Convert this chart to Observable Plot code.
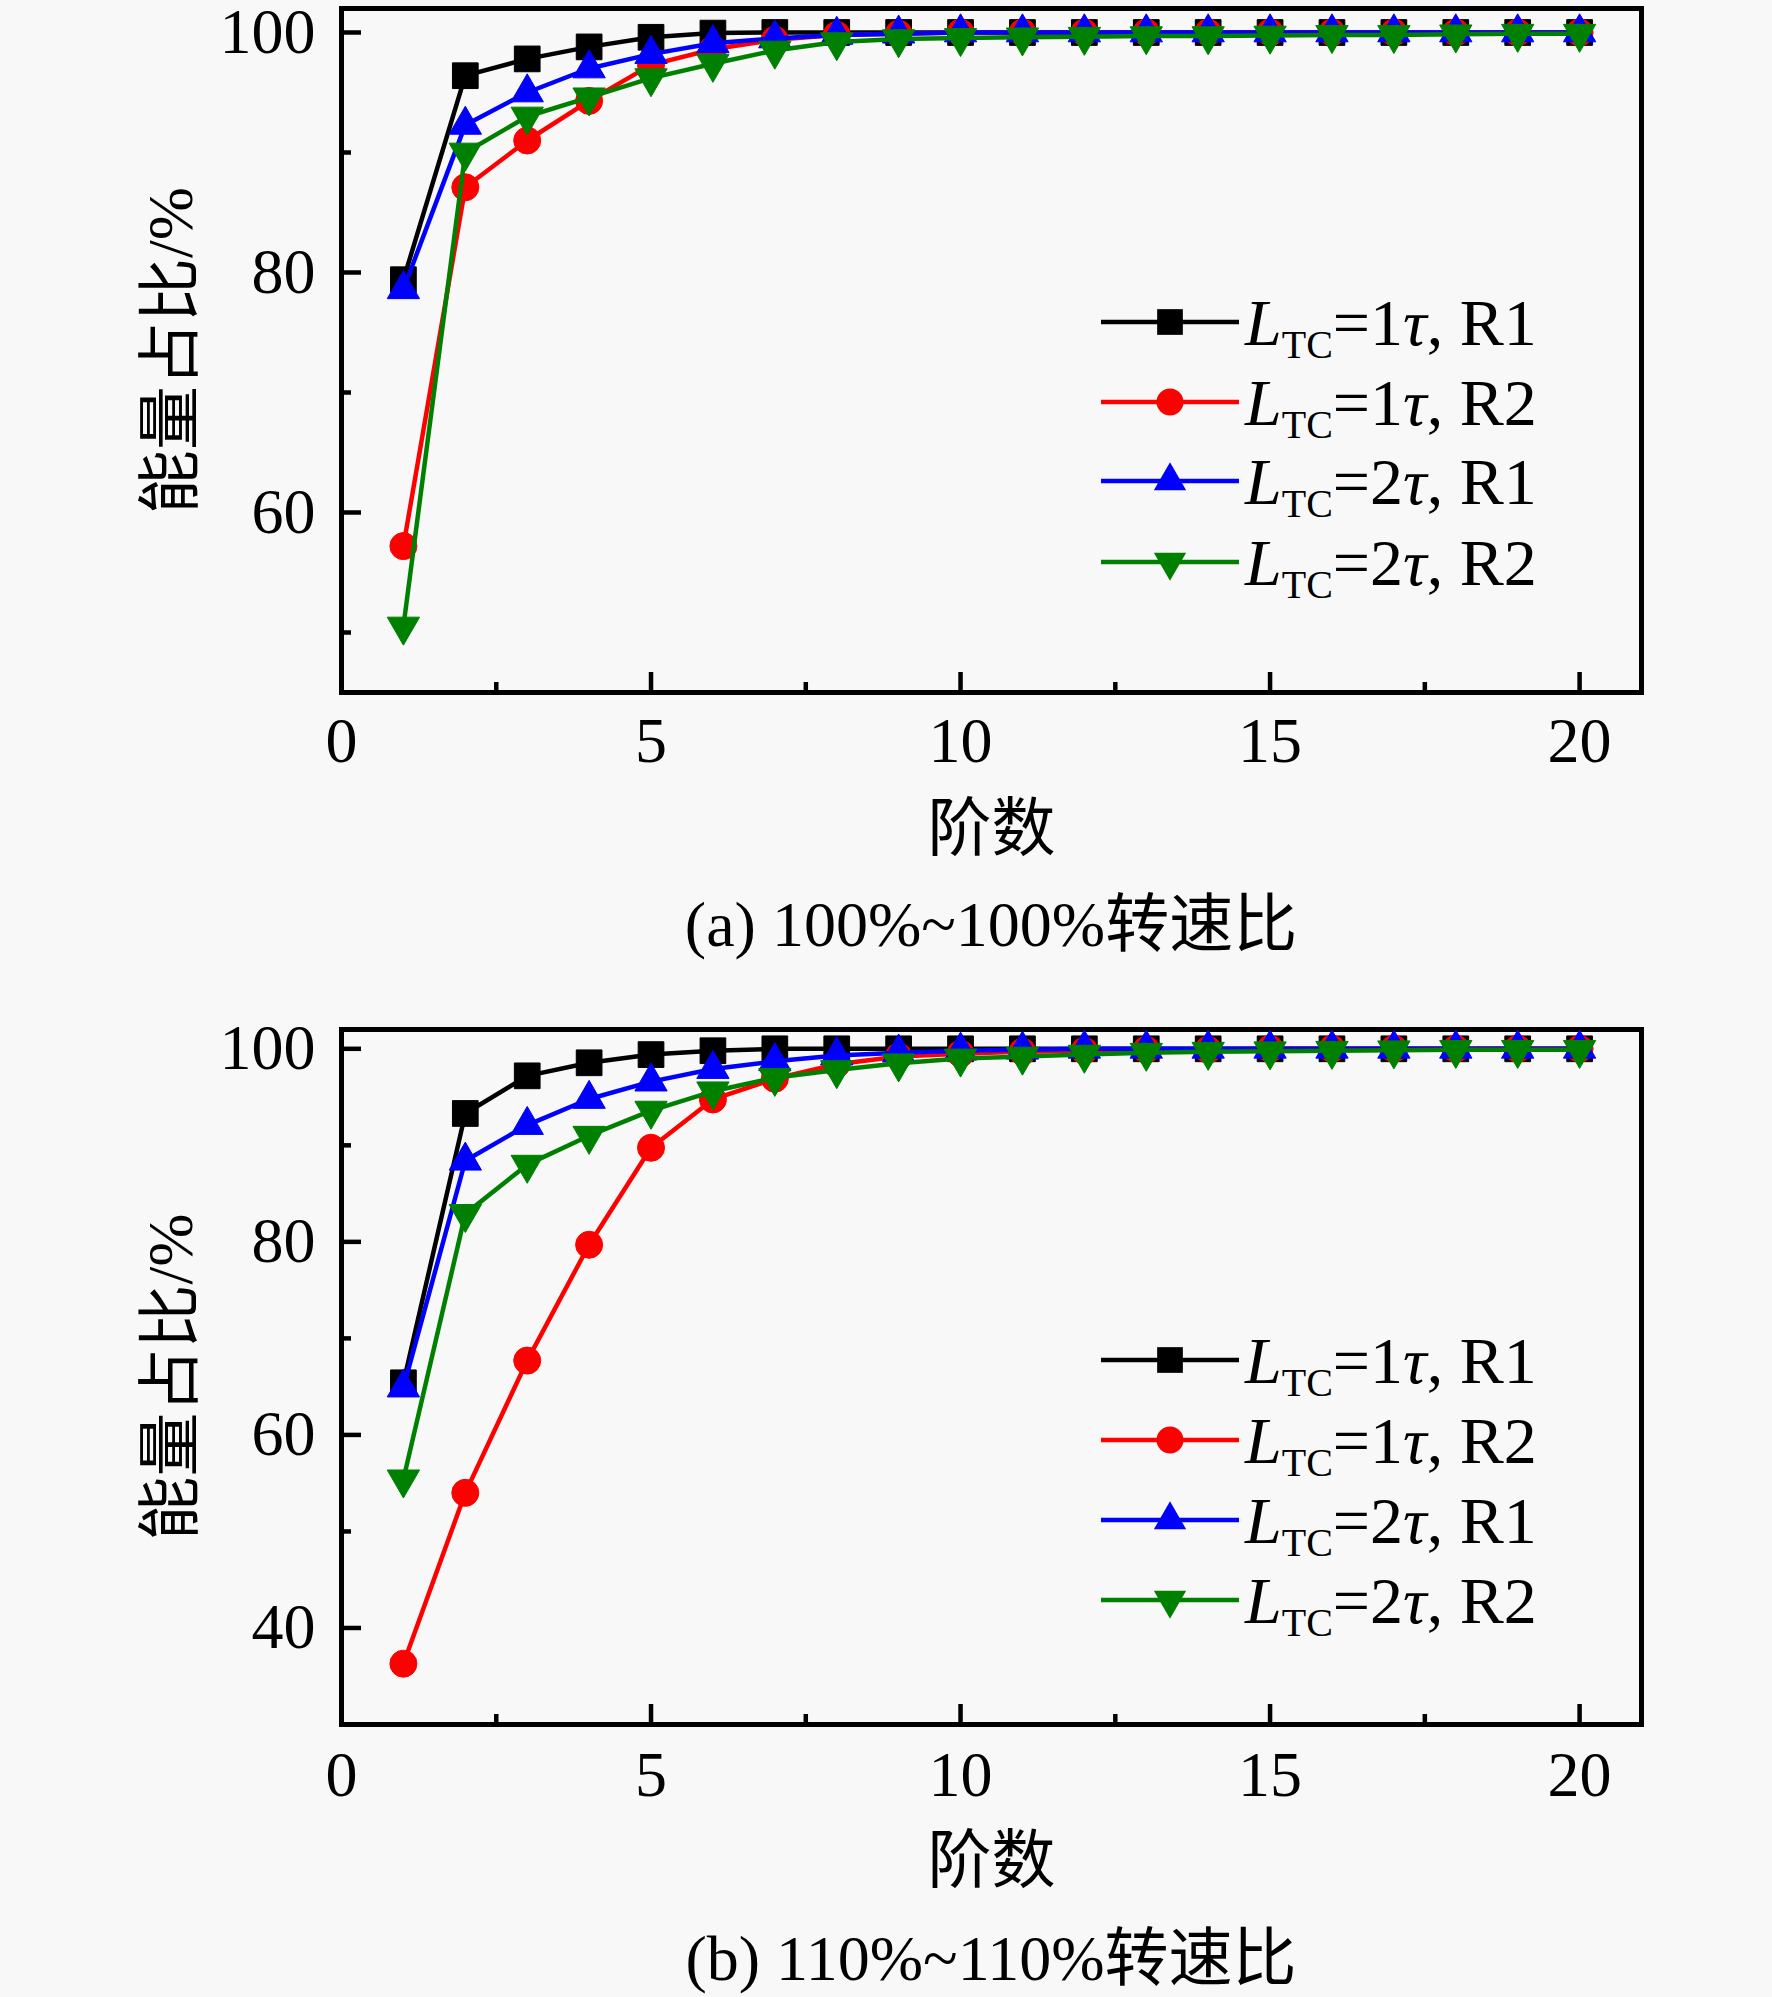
<!DOCTYPE html>
<html><head><meta charset="utf-8">
<script src="https://cdn.jsdelivr.net/npm/d3@7"></script>
<script src="https://cdn.jsdelivr.net/npm/@observablehq/plot@0.6"></script>
<style>
html,body{margin:0;padding:0;background:#f8f8f8;}
#wrap{width:1772px;height:1997px;background:#f8f8f8;overflow:hidden;}
.cap{width:1300px;margin-left:341px;text-align:center;font-family:'Liberation Serif','Noto Sans CJK SC',serif;font-size:64px;color:#000;white-space:nowrap;}
svg{display:block;}
</style></head><body><div id="wrap"></div>
<script>
// ---- data ----
const orders = [1,2,3,4,5,6,7,8,9,10,11,12,13,14,15,16,17,18,19,20];
const seriesNames = ["LTC=1τ, R1","LTC=1τ, R2","LTC=2τ, R1","LTC=2τ, R2"];
const legendTau = ["1","1","2","2"];
const legendR = ["R1","R2","R1","R2"];
const seriesColors = ["#000000","#ff0000","#0000ff","#008000"];

// (a) 100%~100%
const a_L1_R1 = [79.4,96.4,97.8,98.8,99.6,99.95,100,100,100,100,100,100,100,100,100,100,100,100,100,100];
const a_L1_R2 = [57.2,87.1,91.0,94.3,97.3,98.6,99.4,99.8,99.9,100,100,100,100,100,100,100,100,100,100,100];
const a_L2_R1 = [78.6,92.3,95.0,97.0,98.2,99.1,99.5,99.8,99.9,100,100,100,100,100,100,100,100,100,100,100];
const a_L2_R2 = [50.5,90.0,93.0,94.6,96.2,97.4,98.5,99.2,99.45,99.55,99.6,99.65,99.7,99.7,99.75,99.8,99.8,99.85,99.9,99.9];

// (b) 110%~110%
const b_L1_R1 = [65.4,93.3,97.2,98.55,99.4,99.8,100,100,100,100,100,100,100,100,100,100,100,100,100,100];
const b_L1_R2 = [36.3,54.0,67.7,79.7,89.75,94.75,96.9,98.4,99.2,99.5,99.7,99.8,99.9,99.9,100,100,100,100,100,100];
const b_L2_R1 = [64.9,88.4,92.1,94.8,96.6,97.9,98.7,99.3,99.6,99.8,99.9,100,100,100,100,100,100,100,100,100];
const b_L2_R2 = [55.4,82.9,88.0,91.0,93.6,95.6,97.0,97.8,98.5,99.0,99.2,99.4,99.6,99.7,99.75,99.8,99.85,99.9,99.9,99.9];

const xMajor = [0,5,10,15,20];
const xMinor = [2.5,7.5,12.5,17.5];
const a_yMajor = [60,80,100];
const a_yMinor = [50,70,90];
const b_yMajor = [40,60,80,100];
const b_yMinor = [50,70,90];
const xLabel = "阶数";
const yLabel = "能量占比/%";
const captionA = "(a) 100%~100%转速比";
const captionB = "(b) 110%~110%转速比";

// ---- style / layout ----
const FONT = "'Liberation Serif','Noto Sans CJK SC',serif";
const W = 1772, ML = 341, MR = 131;
const frameW = W - ML - MR;
const triangleDown = {
  draw(context, size) {
    const y = -Math.sqrt(size / (Math.sqrt(3) * 3));
    context.moveTo(0, -y * 2);
    context.lineTo(-Math.sqrt(3) * y, y);
    context.lineTo(Math.sqrt(3) * y, y);
    context.closePath();
  }
};
const symbols = ["square","circle","triangle",triangleDown];
const radii = [14.5, 13.5, 12, 12];

function panel(cfg) {
  const frameH = cfg.H - cfg.MT - cfg.MB;
  const marks = [
    Plot.frame({stroke: "black", strokeWidth: 5}),
    Plot.tickX(xMajor, {x: d => d, insetTop: frameH - 20, stroke: "black", strokeWidth: 4.5}),
    Plot.tickX(xMinor, {x: d => d, insetTop: frameH - 10, stroke: "black", strokeWidth: 4.5}),
    Plot.tickY(cfg.yMajor, {y: d => d, insetRight: frameW - 20, stroke: "black", strokeWidth: 4.5}),
    Plot.tickY(cfg.yMinor, {y: d => d, insetRight: frameW - 10, stroke: "black", strokeWidth: 4.5}),
    Plot.axisX({ticks: xMajor, tickSize: 0, tickPadding: cfg.xPad, fontSize: 64, label: null, tickFormat: d => String(d), fill: "black"}),
    Plot.axisY({ticks: cfg.yMajor, tickSize: 0, tickPadding: 26, fontSize: 64, label: null, tickFormat: d => String(d), fill: "black"}),
    Plot.text([xLabel], {text: d => d, frameAnchor: "bottom", dy: 137, lineAnchor: "middle", textAnchor: "middle", fontSize: 64, fill: "black"}),
    Plot.text([yLabel], {text: d => d, frameAnchor: "left", dx: -170, rotate: -90, lineAnchor: "middle", textAnchor: "middle", fontSize: 64, fill: "black"})
  ];
  cfg.series.forEach((vals, i) => {
    const data = orders.map((x, j) => ({x, y: vals[j]}));
    marks.push(Plot.line(data, {x: "x", y: "y", stroke: seriesColors[i], strokeWidth: 4.5}));
    marks.push(Plot.dot(data, {x: "x", y: "y", symbol: symbols[i], r: radii[i], fill: seriesColors[i], stroke: seriesColors[i], strokeWidth: 1}));
  });
  const svg = Plot.plot({
    width: W, height: cfg.H,
    marginLeft: ML, marginRight: MR, marginTop: cfg.MT, marginBottom: cfg.MB,
    x: {domain: [0, 21]},
    y: {domain: cfg.yDomain},
    style: {fontFamily: FONT, fontSize: "64px", background: "#f8f8f8", color: "black", overflow: "visible"},
    marks
  });
  // legend
  const g = d3.select(svg).append("g");
  cfg.legendRows.forEach((dy, i) => {
    const y = cfg.MT + dy;
    g.append("line").attr("x1", 1101).attr("x2", 1239).attr("y1", y).attr("y2", y)
      .attr("stroke", seriesColors[i]).attr("stroke-width", 4.5);
    if (symbols[i] === "circle") {
      g.append("circle").attr("cx", 1170).attr("cy", y).attr("r", radii[i]).attr("fill", seriesColors[i]);
    } else {
      const type = symbols[i] === "square" ? d3.symbolSquare : symbols[i] === "triangle" ? d3.symbolTriangle : triangleDown;
      g.append("path").attr("d", d3.symbol(type, Math.PI * radii[i] * radii[i])())
        .attr("transform", `translate(1170,${y})`).attr("fill", seriesColors[i]);
    }
    const t = g.append("text").attr("x", 1245).attr("y", y + 23)
      .attr("font-size", 66).attr("fill", "black").attr("text-anchor", "start").attr("font-family", FONT);
    t.append("tspan").attr("font-style", "italic").text("L");
    t.append("tspan").attr("font-size", 40).attr("dy", 13).text("TC");
    t.append("tspan").attr("dy", -13).text("=" + legendTau[i]);
    t.append("tspan").attr("font-style", "italic").text("τ");
    t.append("tspan").text(", " + legendR[i]);
  });
  return svg;
}

const wrap = document.getElementById("wrap");
wrap.appendChild(panel({
  H: 880, MT: 8, MB: 188, yDomain: [45, 102], yMajor: a_yMajor, yMinor: a_yMinor, xPad: 24,
  series: [a_L1_R1, a_L1_R2, a_L2_R1, a_L2_R2], legendRows: [314, 394, 473, 554]
}));
const capA = document.createElement("div");
capA.className = "cap"; capA.style.height = "90px"; capA.style.lineHeight = "90px";
capA.textContent = captionA;
wrap.appendChild(capA);
wrap.appendChild(panel({
  H: 950, MT: 59, MB: 196, yDomain: [30, 102], yMajor: b_yMajor, yMinor: b_yMinor, xPad: 26,
  series: [b_L1_R1, b_L1_R2, b_L2_R1, b_L2_R2], legendRows: [331, 411, 491, 571]
}));
const capB = document.createElement("div");
capB.className = "cap"; capB.style.height = "77px"; capB.style.lineHeight = "77px";
capB.textContent = captionB;
wrap.appendChild(capB);
</script>
</body></html>
